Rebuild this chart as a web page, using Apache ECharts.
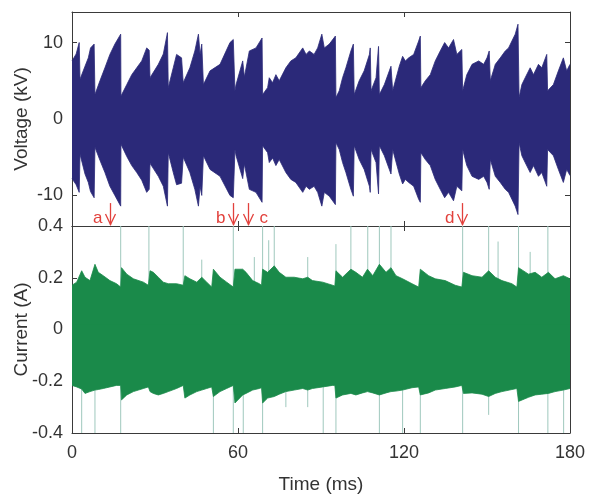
<!DOCTYPE html>
<html><head><meta charset="utf-8">
<script src="https://cdn.jsdelivr.net/npm/echarts@6/dist/echarts.min.js"></script>
<style>html,body{margin:0;padding:0;background:#fff}#c{width:590px;height:495px}</style>
</head><body><div id="c"></div>
<script>
// ---- tick values ----
const xTicks = [0, 60, 120, 180];
const voltageTicks = [-10, 0, 10];
const currentTicks = [-0.4, -0.2, 0, 0.2, 0.4];

// ---- voltage envelope (kV) ----
const volTime = [
  0, 1.5, 2.6, 2.9, 4.7, 5.9, 6.7, 8.0, 8.3, 10.1,
  11.9, 13.7, 15.5, 17.6, 17.7, 19.8, 21.6, 23.4, 25.2, 27.0,
  27.9, 28.2, 31.2, 33.0, 34.5, 34.8, 36.6, 37.8, 39.6, 40.2,
  42.6, 44.4, 45.7, 46.3, 46.9, 47.5, 49.9, 53.5, 57.1, 58.3,
  58.9, 59.3, 61.7, 62.3, 64.1, 66.5, 68.7, 68.9, 70.7, 71.3,
  72.5, 73.7, 74.9, 77.3, 79.1, 80.9, 83.4, 84.6, 85.8, 87.5,
  88.8, 90.3, 91.2, 93.0, 95.2, 95.4, 96.6, 97.8, 99.0, 100.8,
  101.7, 102.0, 103.8, 105.6, 107.5, 107.8, 108.1, 109.9, 110.8, 111.1,
  112.9, 114.7, 115.3, 115.9, 118.3, 119.5, 120.5, 121.7, 123.5, 125.3,
  125.9, 126.1, 127.7, 129.5, 131.3, 133.1, 134.7, 136.1, 137.9, 139.1,
  140.9, 141.2, 142.7, 144.6, 147.0, 148.8, 150.0, 150.8, 151.2, 153.0,
  154.8, 156.6, 157.8, 159.0, 160.2, 161.2, 161.6, 162.6, 163.8, 165.6,
  166.8, 168.6, 169.8, 171.6, 171.9, 174.0, 175.8, 177.6, 178.8, 180
];
const volUpper = [
  7.6, 8.5, 10.0, 5.2, 6.9, 8.0, 9.3, 9.8, 3.2, 5.0,
  6.7, 8.45, 9.8, 11.1, 3.0, 4.5, 5.8, 6.7, 7.6, 9.3,
  9.0, 5.4, 7.15, 8.5, 11.3, 4.1, 6.7, 8.45, 8.0, 4.75,
  6.7, 8.9, 11.1, 8.45, 9.8, 4.5, 6.3, 7.15, 10.0, 10.4,
  3.7, 4.5, 7.6, 5.5, 8.9, 9.3, 10.6, 3.2, 4.1, 5.4,
  4.75, 5.8, 5.0, 6.7, 7.6, 8.0, 9.3, 8.45, 8.9, 8.45,
  9.3, 11.1, 9.3, 9.8, 10.85, 2.8, 3.7, 5.4, 6.7, 8.9,
  9.8, 3.2, 5.0, 6.3, 8.45, 9.3, 3.7, 5.4, 9.5, 3.2,
  4.5, 6.3, 6.9, 3.7, 6.9, 8.2, 7.6, 8.0, 8.45, 10.2,
  10.85, 4.1, 5.0, 5.8, 7.6, 8.9, 10.0, 9.3, 10.4, 8.45,
  9.1, 3.7, 5.8, 7.15, 7.6, 7.15, 8.0, 8.9, 5.0, 7.15,
  8.0, 8.9, 9.3, 10.2, 11.1, 12.4, 2.8, 4.5, 5.4, 6.7,
  5.8, 7.15, 6.7, 8.45, 3.7, 4.5, 6.3, 8.0, 6.3, 7.15
];
const volLower = [
  -7.8, -8.6, -9.6, -4.6, -7.2, -8.3, -9.5, -10.3, -3.7, -5.4,
  -7.0, -8.8, -10.0, -11.4, -3.3, -4.9, -6.1, -7.0, -8.0, -9.6,
  -9.2, -5.8, -7.5, -8.8, -11.4, -4.4, -7.0, -8.6, -8.4, -5.0,
  -7.0, -9.2, -11.4, -8.8, -10.0, -4.8, -6.6, -7.5, -10.0, -10.3,
  -4.0, -4.8, -7.8, -5.9, -9.2, -9.6, -10.9, -3.5, -4.4, -5.7,
  -5.1, -6.1, -5.3, -7.0, -7.9, -8.3, -9.6, -8.8, -9.2, -8.8,
  -9.6, -11.4, -9.6, -10.1, -11.2, -3.1, -4.0, -5.7, -7.0, -9.2,
  -10.1, -3.5, -5.3, -6.6, -8.8, -9.6, -4.0, -5.7, -9.8, -3.5,
  -4.8, -6.6, -7.2, -4.0, -7.2, -8.5, -7.9, -8.3, -8.8, -10.5,
  -10.9, -4.4, -5.3, -6.1, -7.9, -9.2, -10.3, -9.6, -10.7, -8.8,
  -9.4, -4.0, -6.1, -7.5, -7.9, -7.5, -8.3, -9.2, -5.3, -7.5,
  -8.3, -9.2, -9.6, -10.5, -11.4, -12.5, -3.1, -4.8, -5.7, -7.0,
  -6.1, -7.5, -7.0, -8.8, -4.0, -4.8, -6.6, -8.3, -6.6, -7.4
];

// ---- current envelope (A) ----
const curTime = [
  0, 1.7, 3.5, 4.7, 6.5, 8.3, 9.5, 11.3, 13.7, 16.1,
  17.6, 17.9, 19.8, 22.2, 25.8, 27.6, 28.2, 29.4, 31.2, 33.0,
  34.8, 37.8, 40.2, 40.8, 42.6, 45.1, 46.9, 48.7, 50.5, 51.1,
  53.5, 55.9, 58.3, 58.9, 61.7, 62.9, 65.3, 67.7, 68.5, 68.9,
  70.7, 73.1, 74.9, 77.3, 80.3, 83.4, 85.2, 86.9, 90.6, 94.2,
  95.0, 95.4, 97.8, 100.8, 102.6, 105.0, 106.8, 108.7, 111.1, 113.5,
  115.3, 117.1, 119.5, 122.9, 125.3, 125.9, 128.9, 131.3, 134.9, 138.5,
  140.9, 141.5, 144.6, 148.2, 150.6, 153.0, 155.4, 159.0, 160.8, 161.4,
  165.0, 167.4, 169.8, 172.2, 174.6, 177.6, 180
];
const curUpper = [
  0.171, 0.183, 0.227, 0.202, 0.189, 0.252, 0.221, 0.208, 0.189, 0.177,
  0.164, 0.239, 0.214, 0.196, 0.183, 0.171, 0.227, 0.221, 0.202, 0.183,
  0.177, 0.177, 0.171, 0.208, 0.196, 0.183, 0.202, 0.183, 0.164, 0.233,
  0.202, 0.183, 0.164, 0.233, 0.233, 0.221, 0.189, 0.177, 0.171, 0.233,
  0.221, 0.246, 0.221, 0.202, 0.202, 0.196, 0.202, 0.189, 0.183, 0.171,
  0.168, 0.227, 0.202, 0.233, 0.221, 0.202, 0.233, 0.208, 0.252, 0.221,
  0.239, 0.208, 0.196, 0.177, 0.164, 0.233, 0.208, 0.196, 0.189, 0.171,
  0.164, 0.221, 0.208, 0.202, 0.227, 0.202, 0.189, 0.177, 0.164, 0.239,
  0.214, 0.221, 0.202, 0.221, 0.196, 0.208, 0.196
];
const curLower = [
  -0.216, -0.222, -0.230, -0.247, -0.240, -0.234, -0.232, -0.228, -0.222, -0.216,
  -0.216, -0.272, -0.253, -0.240, -0.228, -0.222, -0.240, -0.247, -0.253, -0.247,
  -0.240, -0.228, -0.216, -0.265, -0.253, -0.240, -0.234, -0.228, -0.222, -0.259,
  -0.240, -0.228, -0.216, -0.284, -0.253, -0.247, -0.234, -0.228, -0.225, -0.284,
  -0.265, -0.259, -0.250, -0.240, -0.234, -0.228, -0.234, -0.228, -0.222, -0.216,
  -0.216, -0.265, -0.253, -0.247, -0.253, -0.245, -0.240, -0.245, -0.253, -0.245,
  -0.240, -0.238, -0.234, -0.225, -0.222, -0.253, -0.245, -0.234, -0.228, -0.222,
  -0.216, -0.247, -0.245, -0.250, -0.259, -0.247, -0.240, -0.232, -0.228, -0.278,
  -0.262, -0.253, -0.250, -0.247, -0.240, -0.234, -0.228
];

// ---- current spikes: time, top end, bottom end ----
const spikeTime = [3.5, 8.3, 17.6, 27.8, 40.2, 46.9, 51.1, 58.3, 61.9, 65.9, 68.9, 71.1, 73.1, 77.3, 85.2, 90.8, 95.4, 100.8, 106.9, 111.1, 115.3, 119.5, 125.9, 141.2, 150.6, 154.0, 161.4, 165.6, 172.0, 177.7];
const spikeHigh = [0, 0, 0.4, 0.4, 0.4, 0.27, 0, 0.4, 0, 0.28, 0.4, 0.345, 0.4, 0, 0.28, 0, 0.33, 0.4, 0.4, 0.4, 0.4, 0, 0, 0.4, 0.4, 0.34, 0.4, 0.3, 0.4, 0];
const spikeLow  = [-0.4, -0.4, -0.4, 0, 0, 0, -0.4, -0.4, -0.4, 0, -0.4, 0, 0, -0.3, -0.3, -0.4, -0.4, 0, 0, -0.4, 0, -0.4, -0.4, -0.4, -0.33, 0, -0.4, 0, -0.4, -0.4];

// ---- annotations ----
const markerTime = [13.8, 58.3, 63.5, 141.1];
const markerLabel = ['a', 'b', 'c', 'd'];
const markerSide = ['left', 'left', 'right', 'left'];

const FONT = '"Liberation Sans", Arial, sans-serif';
const AX = '#3a3a3a';
const TXT = '#333';
const VCOL = '#2b2979';
const ICOL = '#1a8a4a';
const RED = '#e2413c';

function xAxisDef(grid, pos, labels, name) {
  return {
    type: 'value', gridIndex: grid, position: pos, min: 0, max: 180, interval: 60,
    axisLine: { show: true, onZero: false, lineStyle: { color: AX, width: 1 } },
    axisTick: { show: true, inside: true, length: 5, lineStyle: { color: AX } },
    axisLabel: { show: labels, margin: 11, fontSize: 18, color: TXT, fontFamily: FONT },
    splitLine: { show: false },
    name: name || '', nameLocation: 'middle', nameGap: 42, nameMoveOverlap: false,
    nameTextStyle: { fontSize: 19, color: TXT, fontFamily: FONT }
  };
}
function yAxisDef(grid, pos, labels, name, mn, mx, ticks) {
  return {
    type: 'value', gridIndex: grid, position: pos, min: mn, max: mx,
    axisLine: { show: true, onZero: false, lineStyle: { color: AX, width: 1 } },
    axisTick: { show: true, inside: true, length: 5, lineStyle: { color: AX }, customValues: ticks },
    axisLabel: { show: labels, margin: 9, fontSize: 18, color: TXT, fontFamily: FONT, customValues: ticks },
    splitLine: { show: false },
    name: name || '', nameLocation: 'middle', nameGap: 41, nameMoveOverlap: false,
    nameTextStyle: { fontSize: 19, color: TXT, fontFamily: FONT }
  };
}
// one edge of an envelope, filled towards (and slightly past) zero so the halves overlap
function edge(xi, yi, ts, vs, color, origin) {
  return {
    type: 'line', xAxisIndex: xi, yAxisIndex: yi,
    data: ts.map((t, i) => [t, vs[i]]),
    showSymbol: false, symbol: 'none', silent: true,
    lineStyle: { color: color, width: 0.8 },
    areaStyle: { color: color, opacity: 1, origin: origin }, z: 3
  };
}

const chart = echarts.init(document.getElementById('c'), null, { renderer: 'canvas' });
chart.setOption({
  animation: false,
  backgroundColor: '#fff',
  grid: [
    { left: 72, right: 20, top: 12, height: 214 },
    { left: 72, right: 20, top: 226, height: 214 }
  ],
  xAxis: [
    xAxisDef(0, 'bottom', false),
    xAxisDef(0, 'top', false),
    xAxisDef(1, 'bottom', true, 'Time (ms)'),
    xAxisDef(1, 'top', false)
  ],
  yAxis: [
    yAxisDef(0, 'left', true, 'Voltage (kV)', -14, 14, voltageTicks),
    yAxisDef(0, 'right', false, '', -14, 14, voltageTicks),
    yAxisDef(1, 'left', true, 'Current (A)', -0.4, 0.4, currentTicks),
    yAxisDef(1, 'right', false, '', -0.4, 0.4, currentTicks)
  ],
  series: [
    {
      type: 'custom', xAxisIndex: 2, yAxisIndex: 2, clip: true, silent: true, z: 1,
      data: spikeTime.map((t, i) => [t, spikeHigh[i], spikeLow[i]]),
      encode: { x: 0, y: [1, 2] },
      renderItem: function (params, api) {
        const a = api.coord([api.value(0), api.value(1)]);
        const b = api.coord([api.value(0), api.value(2)]);
        return { type: 'line', shape: { x1: a[0], y1: a[1], x2: b[0], y2: b[1] },
          style: { stroke: '#9fc8bd', lineWidth: 1 } };
      }
    },
    edge(2, 2, curTime, curUpper, ICOL, -0.02),
    edge(2, 2, curTime, curLower, ICOL, 0.02),
    edge(0, 0, volTime, volUpper, VCOL, -0.8),
    edge(0, 0, volTime, volLower, VCOL, 0.8),
    {
      type: 'custom', xAxisIndex: 0, yAxisIndex: 0, clip: false, silent: true, z: 10,
      data: markerTime.map((t, i) => [t, i]),
      encode: { x: 0 },
      renderItem: function (params, api) {
        const t = api.value(0);
        const i = api.value(1);
        const tip = api.coord([t, -14]);
        const top = api.coord([t, -11.0]);
        const x = Math.round(tip[0]) + 0.5;
        const left = markerSide[i] === 'left';
        return {
          type: 'group',
          children: [
            { type: 'line', shape: { x1: x, y1: top[1], x2: x, y2: tip[1] - 1 },
              style: { stroke: RED, lineWidth: 1.3 } },
            { type: 'polyline', shape: { points: [[x - 5, tip[1] - 12], [x, tip[1] - 1.5], [x + 5, tip[1] - 12]] },
              style: { stroke: RED, fill: null, lineWidth: 1.3 } },
            { type: 'text', style: { text: markerLabel[i], x: left ? x - 8 : x + 11, y: tip[1] - 8,
                align: left ? 'right' : 'left', verticalAlign: 'middle', fill: RED,
                fontSize: 17, fontFamily: FONT } }
          ]
        };
      }
    }
  ]
});
</script>
</body></html>
